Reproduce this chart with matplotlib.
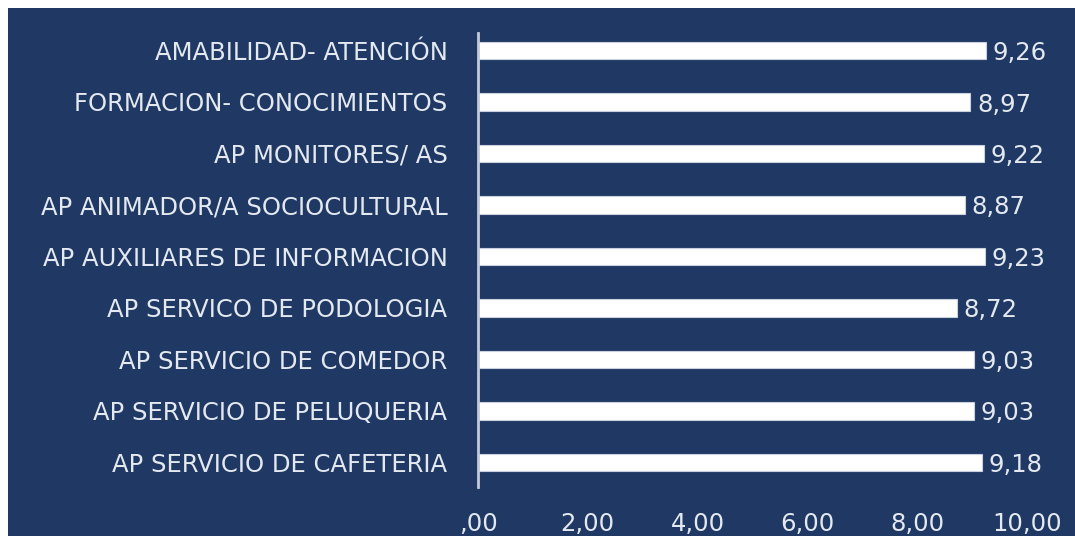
import matplotlib
matplotlib.use('Agg')
import matplotlib.pyplot as plt
import matplotlib.patches as mpatches

categories = ['AMABILIDAD- ATENCIÓN', 'FORMACION- CONOCIMIENTOS', 'AP MONITORES/ AS',
              'AP ANIMADOR/A SOCIOCULTURAL', 'AP AUXILIARES DE INFORMACION',
              'AP SERVICO DE PODOLOGIA', 'AP SERVICIO DE COMEDOR',
              'AP SERVICIO DE PELUQUERIA', 'AP SERVICIO DE CAFETERIA']
values = [9.26, 8.97, 9.22, 8.87, 9.23, 8.72, 9.03, 9.03, 9.18]
xticks = [0, 2, 4, 6, 8, 10]
xtick_labels = [',00', '2,00', '4,00', '6,00', '8,00', '10,00']

navy = '#1f3864'
txt = '#e4e9f0'
plt.rcParams['font.family'] = ['DejaVu Sans']
fs = 17.5

fig = plt.figure(figsize=(10.75, 5.36), dpi=100, facecolor='white')
# navy panel with thin white strip at left and top
fig.patches.append(mpatches.Rectangle((8 / 1075, 0), 1, 1 - 8 / 536, transform=fig.transFigure,
                                      facecolor=navy, edgecolor='none', zorder=-5))

ax = fig.add_axes([478 / 1075, 1 - 487 / 536, (1027 - 478) / 1075, (487 - 33) / 536])
ax.set_facecolor('none')
ax.set_zorder(1)

ypos = list(range(len(categories)))
bars = ax.barh(ypos, values, height=0.34, color='white', edgecolor='#c9d1de', linewidth=0.8)
for b, v in zip(bars, values):
    ax.text(b.get_width() + 0.12, b.get_y() + b.get_height() / 2 + 0.05, f'{v:.2f}'.replace('.', ','),
            va='center', ha='left', color=txt, fontsize=fs)

ax.set_xlim(0, 10)
ax.set_ylim(8.48, -0.34)
ax.set_yticks(ypos)
ax.set_yticklabels(categories, color=txt, fontsize=fs)
ax.set_xticks(xticks)
ax.set_xticklabels(xtick_labels, color=txt, fontsize=fs)
ax.tick_params(axis='y', length=0, pad=22)
ax.tick_params(axis='x', length=0, pad=18)
for s in ['top', 'right', 'bottom']:
    ax.spines[s].set_visible(False)
ax.spines['left'].set_color('#c3cbd9')
ax.spines['left'].set_linewidth(2)

fig.savefig('out.png', dpi=100, facecolor=fig.get_facecolor())
